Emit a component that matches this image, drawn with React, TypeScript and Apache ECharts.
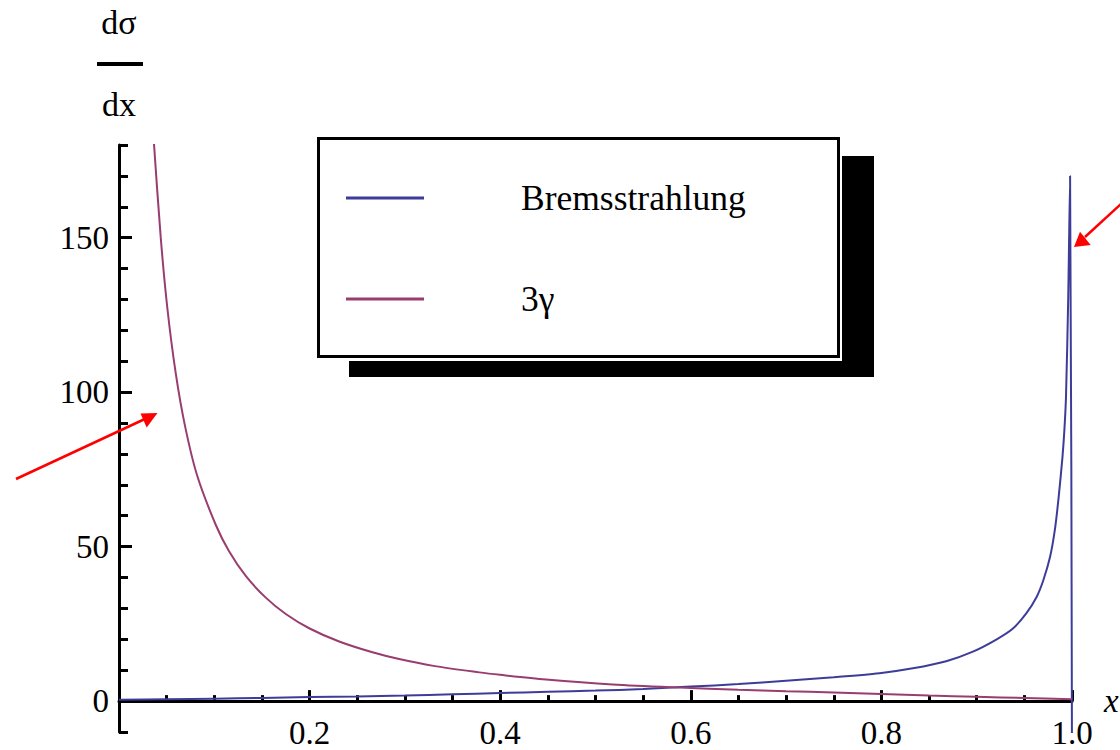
import React, { useEffect, useRef } from 'react';
import * as echarts from 'echarts';

// Bremsstrahlung curve (blue)
const bremsX = [0, 0.05, 0.1, 0.15, 0.2, 0.25, 0.3, 0.35, 0.4, 0.45, 0.5, 0.55, 0.6, 0.65, 0.7, 0.75, 0.798, 0.833, 0.868, 0.896, 0.921, 0.938, 0.952, 0.963, 0.97, 0.977, 0.982, 0.986, 0.99, 0.992, 0.9937, 0.996, 0.998, 1.0];
const bremsY = [0.4, 0.6, 0.8, 1.0, 1.3, 1.5, 1.8, 2.2, 2.6, 3.0, 3.4, 3.9, 4.7, 5.5, 6.6, 7.7, 9.0, 10.6, 12.9, 16, 20, 23.5, 28.4, 33.8, 39.2, 46.7, 55.4, 66, 79, 87.7, 98.5, 130, 170, -20];

// 3 gamma curve (purple)
const gammaX = [0.035, 0.0368, 0.0438, 0.0508, 0.0596, 0.0693, 0.082, 0.1016, 0.1155, 0.133, 0.154, 0.175, 0.2, 0.231, 0.266, 0.294, 0.33, 0.378, 0.4, 0.448, 0.518, 0.588, 0.65, 0.7, 0.75, 0.8, 0.85, 0.9, 0.95, 1.0];
const gammaY = [188, 180, 150, 127, 106, 89, 73, 57, 48.5, 40.5, 33.5, 28.2, 23.5, 19.3, 15.8, 13.6, 11.4, 9.3, 8.5, 7.0, 5.4, 4.4, 3.7, 3.2, 2.8, 2.3, 1.8, 1.4, 1.0, 0.6];

const seriesNames = ['Bremsstrahlung', '3γ'];
const seriesColors = ['#3d3d99', '#993d71'];
const yMajorTicks = [0, 50, 100, 150];

const FONT = 'Liberation Serif';

export default function App() {
  const ref = useRef<HTMLDivElement>(null);
  useEffect(() => {
    if (!ref.current) return;
    const chart = echarts.init(ref.current, undefined, { renderer: 'svg' });
    const zip = (xs: number[], ys: number[]) => xs.map((x, i) => [x, ys[i]]);
    const option: any = {
      animation: false,
      backgroundColor: '#fff',
      grid: { left: 119, top: 145, width: 953, height: 587, containLabel: false, outerBoundsMode: 'none' },
      xAxis: {
        type: 'value', min: 0, max: 1, interval: 0.2,
        name: 'x', nameLocation: 'end', nameGap: 32,
        nameTextStyle: { fontFamily: FONT, fontSize: 33, fontStyle: 'italic', color: '#000' },
        axisLine: { onZero: true, lineStyle: { color: '#000', width: 3 } },
        axisTick: { inside: true, length: 11, lineStyle: { color: '#000', width: 3 } },
        minorTick: { show: true, splitNumber: 4, length: 6, lineStyle: { color: '#000', width: 3 } },
        splitLine: { show: false },
        minorSplitLine: { show: false },
        axisLabel: {
          margin: -16, color: '#000', fontFamily: FONT, fontSize: 33,
          formatter: (v: number) => (v === 0 ? '' : v.toFixed(1)),
        },
      },
      yAxis: [
        {
          type: 'value', min: -10, max: 180, interval: 10, position: 'left',
          axisLine: { show: true, onZero: false, lineStyle: { color: '#000', width: 3 } },
          axisTick: { show: true, inside: true, length: 9, lineStyle: { color: '#000', width: 3 } },
          axisLabel: { show: false },
          splitLine: { show: false },
        },
        {
          type: 'value', min: -10, max: 180, interval: 10, position: 'left',
          axisLine: { show: false, onZero: false },
          axisTick: { show: true, inside: true, length: 13, customValues: yMajorTicks, lineStyle: { color: '#000', width: 3 } },
          axisLabel: { show: true, customValues: yMajorTicks, margin: 10, color: '#000', fontFamily: FONT, fontSize: 33 },
          splitLine: { show: false },
        },
      ],
      legend: {
        data: seriesNames,
        orient: 'vertical',
        left: 346, top: 180,
        padding: 0,
        icon: 'rect', itemWidth: 78, itemHeight: 3, itemGap: 65,
        z: 20,
        textStyle: { fontFamily: FONT, fontSize: 35.5, lineHeight: 34, color: '#000', padding: [0, 0, 0, 92] },
      },
      graphic: [
        { type: 'rect', z: 10, shape: { x: 349, y: 156, width: 525, height: 221 }, style: { fill: '#000' } },
        { type: 'rect', z: 11, shape: { x: 315, y: 134, width: 527, height: 227 }, style: { fill: '#fff' } },
        { type: 'rect', z: 12, shape: { x: 318.5, y: 138.5, width: 520, height: 218 }, style: { fill: '#fff', stroke: '#000', lineWidth: 3 } },
        { type: 'text', z: 12, style: { text: 'dσ', x: 119, y: 22, textAlign: 'center', textVerticalAlign: 'middle', font: '34px "Liberation Serif"', fill: '#000' } },
        { type: 'rect', z: 12, shape: { x: 97, y: 62, width: 46, height: 4 }, style: { fill: '#000' } },
        { type: 'text', z: 12, style: { text: 'dx', x: 119, y: 104, textAlign: 'center', textVerticalAlign: 'middle', font: '34px "Liberation Serif"', fill: '#000' } },
        { type: 'line', z: 30, shape: { x1: 16, y1: 479, x2: 147, y2: 418 }, style: { stroke: '#ff0000', lineWidth: 2.5 } },
        { type: 'polygon', z: 30, shape: { points: [[157.5, 413], [140.5, 413.5], [146.7, 427.5]] }, style: { fill: '#ff0000' } },
        { type: 'line', z: 30, shape: { x1: 1122, y1: 203, x2: 1085, y2: 237 }, style: { stroke: '#ff0000', lineWidth: 2.5 } },
        { type: 'polygon', z: 30, shape: { points: [[1074, 247], [1080, 231.7], [1090.7, 245]] }, style: { fill: '#ff0000' } },
      ],
      series: [
        {
          name: seriesNames[0], type: 'line', yAxisIndex: 0, data: zip(bremsX, bremsY),
          showSymbol: false, smooth: 0.25, clip: true,
          color: seriesColors[0], lineStyle: { color: seriesColors[0], width: 2 },
        },
        {
          name: seriesNames[1], type: 'line', yAxisIndex: 0, data: zip(gammaX, gammaY),
          showSymbol: false, smooth: 0.3, clip: true,
          color: seriesColors[1], lineStyle: { color: seriesColors[1], width: 2 },
        },
      ],
    };
    chart.setOption(option);
    return () => chart.dispose();
  }, []);
  return <div ref={ref} style={{ position: 'absolute', left: 0, top: 0, width: 1120, height: 750 }} />;
}
